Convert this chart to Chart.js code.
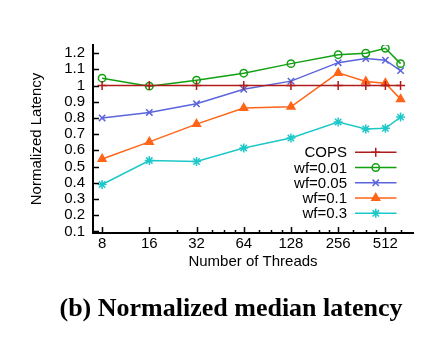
<!DOCTYPE html>
<html>
<head>
<meta charset="utf-8">
<script src="https://cdn.jsdelivr.net/npm/chart.js@4.4.1/dist/chart.umd.min.js"></script>
<style>
    html, body { margin: 0; padding: 0; background: #fff; }
    #wrap { position: relative; width: 438px; height: 338px; }
    #caption {
        position: absolute; left: 0; width: 462px; top: 293px;
        text-align: center; line-height: 26px;
        font: bold 26px "Liberation Serif", "Times New Roman", serif; color: #000;
    }
</style>
</head>
<body>
<div id="wrap">
    <canvas id="latencyChart" width="438" height="338"></canvas>
    <div id="caption">(b) Normalized median latency</div>
</div>
<script>
const THREADS = [8, 16, 32, 64, 128, 256, 384, 512, 640];
const X_TICKS = [8, 16, 32, 64, 128, 256, 512];
const X_MINOR = [24, 40, 48, 56, 80, 96, 112, 160, 192, 224, 320, 384, 448, 640];
const Y_TICKS = [0.1, 0.2, 0.3, 0.4, 0.5, 0.6, 0.7, 0.8, 0.9, 1.0, 1.1, 1.2];

const COPS   = [1, 1, 1, 1, 1, 1, 1, 1, 1];
const WF_001 = [1.045, 0.996, 1.033, 1.076, 1.135, 1.19, 1.199, 1.23, 1.135];
const WF_005 = [0.80, 0.834, 0.887, 0.977, 1.027, 1.141, 1.166, 1.156, 1.092];
const WF_01  = [0.547, 0.652, 0.762, 0.861, 0.869, 1.078, 1.025, 1.014, 0.916];
const WF_03  = [0.389, 0.537, 0.531, 0.615, 0.676, 0.775, 0.732, 0.736, 0.805];

const FONT = '"Liberation Sans", Arial, Helvetica, sans-serif';

function series(label, data, color, pointStyle, radius, filled) {
    return {
        label: label,
        data: data,
        borderColor: color,
        backgroundColor: filled ? color : 'rgba(0,0,0,0)',
        borderWidth: 1.5,
        pointStyle: pointStyle,
        pointRadius: radius,
        pointBorderWidth: 1.5,
        pointBorderColor: color,
        pointBackgroundColor: filled ? color : 'rgba(0,0,0,0)',
        tension: 0
    };
}

// gnuplot-like inward ticks on left / bottom axes
const innerTicks = {
    id: 'innerTicks',
    afterDraw(chart) {
        const ctx = chart.ctx;
        const xs = chart.scales.x, ys = chart.scales.y;
        const area = chart.chartArea;
        ctx.save();
        ctx.strokeStyle = '#000';
        ctx.lineWidth = 1.5;
        ctx.beginPath();
        Y_TICKS.forEach(v => {
            const y = Math.round(ys.getPixelForValue(v)) + 0.5;
            ctx.moveTo(area.left, y);
            ctx.lineTo(area.left + 6, y);
        });
        X_TICKS.forEach(v => {
            const x = Math.round(xs.getPixelForValue(v)) + 0.5;
            ctx.moveTo(x, area.bottom);
            ctx.lineTo(x, area.bottom - 6);
        });
        X_MINOR.forEach(v => {
            const x = Math.round(xs.getPixelForValue(v)) + 0.5;
            ctx.moveTo(x, area.bottom);
            ctx.lineTo(x, area.bottom - 3);
        });
        ctx.stroke();
        ctx.restore();
    }
};

// key inside the plot: right aligned text, line sample with marker
const insideKey = {
    id: 'insideKey',
    afterDatasetsDraw(chart) {
        const ctx = chart.ctx;
        const textRight = 347, lineLeft = 355, lineRight = 396.5, y0 = 152.3, step = 15.25;
        ctx.save();
        ctx.font = '15px ' + FONT;
        ctx.textAlign = 'right';
        ctx.textBaseline = 'middle';
        chart.data.datasets.forEach((ds, i) => {
            const y = y0 + i * step;
            ctx.fillStyle = '#000';
            ctx.fillText(ds.label, textRight, y + 1);
            ctx.strokeStyle = ds.borderColor;
            ctx.lineWidth = ds.borderWidth;
            ctx.beginPath();
            ctx.moveTo(lineLeft, y);
            ctx.lineTo(lineRight, y);
            ctx.stroke();
            ctx.fillStyle = ds.pointBackgroundColor;
            ctx.lineWidth = ds.pointBorderWidth;
            Chart.helpers.drawPoint(ctx, {
                pointStyle: ds.pointStyle,
                radius: ds.pointRadius,
                borderWidth: ds.pointBorderWidth,
                rotation: 0
            }, (lineLeft + lineRight) / 2, y);
        });
        ctx.restore();
    }
};

new Chart(document.getElementById('latencyChart'), {
    type: 'line',
    data: {
        labels: THREADS,
        datasets: [
            series('COPS', COPS, '#b01c1c', 'cross', 4.5, false),
            series('wf=0.01', WF_001, '#12a012', 'circle', 3.7, false),
            series('wf=0.05', WF_005, '#5a64dc', 'crossRot', 4.5, false),
            series('wf=0.1', WF_01, '#ff6418', 'triangle', 4.5, true),
            series('wf=0.3', WF_03, '#1ec8c8', 'star', 4.5, false)
        ]
    },
    plugins: [innerTicks, insideKey],
    options: {
        responsive: false,
        animation: false,
        devicePixelRatio: 1,
        layout: { padding: { left: 0, right: 25, top: 45, bottom: 0 } },
        plugins: {
            legend: { display: false },
            tooltip: { enabled: false }
        },
        scales: {
            x: {
                type: 'logarithmic',
                min: 7,
                max: 768,
                afterBuildTicks: scale => { scale.ticks = X_TICKS.map(v => ({ value: v })); },
                afterFit: scale => { scale.height = 105; },
                grid: { display: false, drawTicks: false },
                border: { display: true, color: '#000', width: 2 },
                ticks: {
                    color: '#000',
                    font: { family: FONT, size: 15 },
                    padding: 2,
                    maxRotation: 0,
                    autoSkip: false,
                    callback: v => String(v)
                },
                title: {
                    display: true,
                    text: 'Number of Threads',
                    color: '#000',
                    font: { family: FONT, size: 15 },
                    padding: { top: 0, bottom: 67 }
                }
            },
            y: {
                min: 0.09,
                max: 1.25,
                afterBuildTicks: scale => { scale.ticks = Y_TICKS.map(v => ({ value: v })); },
                afterFit: scale => { scale.width = 93; },
                grid: { display: false, drawTicks: false },
                border: { display: true, color: '#000', width: 2 },
                ticks: {
                    color: '#000',
                    font: { family: FONT, size: 15, lineHeight: 1 },
                    padding: 8,
                    autoSkip: false,
                    callback: v => String(+v.toFixed(1))
                },
                title: {
                    display: true,
                    text: 'Normalized Latency',
                    color: '#000',
                    font: { family: FONT, size: 15 },
                    padding: { top: 28, bottom: 0 }
                }
            }
        }
    }
});
</script>
</body>
</html>
